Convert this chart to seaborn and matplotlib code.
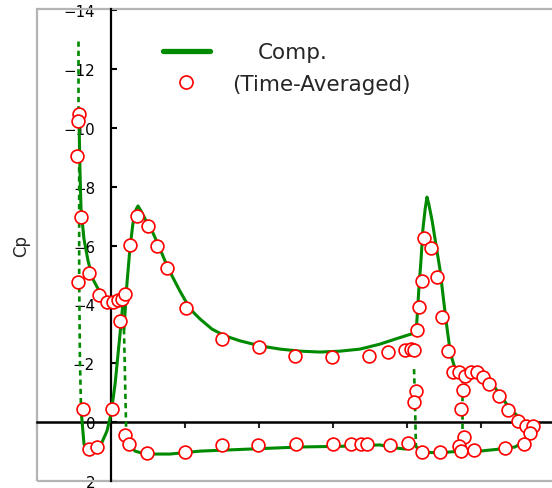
import numpy as np
import pandas as pd
import matplotlib
matplotlib.use("Agg")
import matplotlib.pyplot as plt
from matplotlib.lines import Line2D
from matplotlib.patches import Rectangle
import seaborn as sns

# ------------------------
# DATA  (x/c, Cp)
# ------------------------

# computation: slat
slat_top_x = [-0.089, -0.089]
slat_top_cp = [-12.96, -10.48]
slat_upper_x = [-0.089, -0.086, -0.084, -0.081, -0.073, -0.062, -0.049, -0.032, -0.014, 0.011, 0.030]
slat_upper_cp = [-10.48, -9.97, -8.61, -7.24, -6.22, -5.48, -4.86, -4.46, -4.18, -4.08, -4.12]
slat_le_x = [-0.086, -0.086, -0.084, -0.081]
slat_le_cp = [-9.3, -4.86, -2.14, -0.44]
slat_lower_x = [-0.081, -0.073, -0.057, -0.030, -0.011, 0.000, 0.011, 0.019, 0.027, 0.032]
slat_lower_cp = [-0.44, 0.75, 1.12, 0.85, 0.31, -0.27, -1.29, -2.31, -3.33, -4.01]

# computation: main element
main_upper_x = [0.035, 0.043, 0.051, 0.059, 0.068, 0.073, 0.081, 0.095, 0.111, 0.127, 0.146,
                0.165, 0.186, 0.214, 0.241, 0.273, 0.308, 0.349, 0.403, 0.457, 0.511, 0.565,
                0.619, 0.673, 0.727, 0.768, 0.803, 0.822]
main_upper_cp = [-3.16, -4.69, -5.88, -6.73, -7.24, -7.35, -7.18, -6.84, -6.50, -6.05, -5.48,
                 -4.97, -4.46, -3.84, -3.50, -3.16, -2.93, -2.76, -2.59, -2.48, -2.41, -2.38,
                 -2.41, -2.48, -2.65, -2.82, -2.96, -3.03]
main_le_x = [0.035, 0.038, 0.041]
main_le_cp = [-3.16, -1.46, 0.31]
main_lower_x = [0.041, 0.049, 0.065, 0.092, 0.159, 0.241, 0.376, 0.511, 0.646, 0.727, 0.768, 0.795, 0.811]
main_lower_cp = [0.31, 0.75, 0.99, 1.09, 1.09, 0.99, 0.92, 0.85, 0.82, 0.78, 0.88, 0.92, 0.85]

# computation: flap
flap_upper_x = [0.824, 0.827, 0.832, 0.838, 0.843, 0.849, 0.854, 0.859, 0.868, 0.878, 0.889,
                0.897, 0.905, 0.914, 0.922, 0.932, 0.943]
flap_upper_cp = [-2.96, -3.50, -4.52, -5.54, -6.56, -7.24, -7.65, -7.41, -6.84, -6.05, -5.20,
                 -4.35, -3.50, -2.65, -2.14, -1.73, -1.63]
flap_le_x = [0.819, 0.822, 0.824]
flap_le_cp = [-1.80, -0.44, 0.82]
flap_lower_x = [0.824, 0.835, 0.889, 0.943]
flap_lower_cp = [0.82, 1.02, 1.05, 0.99]

# computation: aft flap
aft_upper_x = [0.943, 0.970, 0.997, 1.024, 1.051, 1.078, 1.105, 1.132, 1.151]
aft_upper_cp = [-1.63, -1.80, -1.77, -1.39, -0.95, -0.44, -0.14, 0.10, 0.24]
aft_le_x = [0.949, 0.949]
aft_le_cp = [-1.53, 0.92]
aft_lower_x = [0.949, 0.997, 1.051, 1.092, 1.119, 1.141, 1.151]
aft_lower_cp = [0.99, 0.99, 0.92, 0.85, 0.65, 0.37, 0.24]

# experiment (time-averaged)
exp_x = [-0.086, -0.089, -0.092, -0.081, -0.059, -0.089, -0.032, -0.011, 0.005, 0.019, 0.030,
         0.038, 0.024, -0.076, 0.003, -0.059, -0.038, 0.038, 0.049,
         0.051, 0.070, 0.100, 0.124, 0.151, 0.203, 0.300, 0.400, 0.497, 0.597, 0.697, 0.749,
         0.795, 0.811, 0.819,
         0.097, 0.200, 0.300, 0.397, 0.500, 0.600, 0.649, 0.676, 0.692, 0.754, 0.803,
         0.824, 0.819,
         0.827, 0.832, 0.841, 0.846, 0.865, 0.881, 0.895, 0.911, 0.841, 0.889,
         0.924, 0.941, 0.957, 0.973, 0.989, 1.005, 1.022, 1.049, 1.073, 1.100, 1.122, 1.141,
         1.132, 1.116,
         0.951, 0.946, 0.954, 0.941, 0.946, 0.981, 1.065]
exp_cp = [-10.48, -10.24, -9.05, -6.97, -5.07, -4.76, -4.32, -4.08, -4.08, -4.15, -4.18,
          -4.35, -3.44, -0.44, -0.44, 0.92, 0.85, 0.44, 0.75,
          -6.02, -7.01, -6.67, -5.99, -5.24, -3.88, -2.82, -2.55, -2.24, -2.21, -2.24, -2.38,
          -2.45, -2.48, -2.45,
          1.05, 1.02, 0.78, 0.78, 0.75, 0.75, 0.75, 0.75, 0.75, 0.78, 0.71,
          -1.05, -0.68,
          -3.13, -3.91, -4.80, -6.26, -5.92, -4.93, -3.57, -2.41, 1.02, 1.02,
          -1.70, -1.70, -1.56, -1.70, -1.70, -1.53, -1.29, -0.88, -0.41, -0.03, 0.14, 0.14,
          0.37, 0.75,
          -1.09, -0.44, 0.51, 0.82, 0.99, 0.95, 0.88]

y_ticks = [-14, -12, -10, -8, -6, -4, -2, 0, 2]
x_ticks = [-0.2, 0.2, 0.4, 0.6, 0.8, 1.0, 1.2]

# ------------------------
# PLOT
# ------------------------
sns.set_style("white")
plt.rcParams["font.family"] = ["DejaVu Sans"]

green = "#008a00"
red = "#ff0000"

fig = plt.figure(figsize=(5.52, 4.89), dpi=100)
ax = fig.add_axes([37 / 552, 1 - 482 / 489, 563 / 552, 472 / 489])

solid_segments = [(slat_upper_x, slat_upper_cp), (slat_lower_x, slat_lower_cp),
                  (main_upper_x, main_upper_cp), (main_lower_x, main_lower_cp),
                  (flap_upper_x, flap_upper_cp), (flap_lower_x, flap_lower_cp),
                  (aft_upper_x, aft_upper_cp), (aft_lower_x, aft_lower_cp)]
dashed_segments = [(slat_top_x, slat_top_cp), (slat_le_x, slat_le_cp), (main_le_x, main_le_cp),
                   (flap_le_x, flap_le_cp), (aft_le_x, aft_le_cp)]

for sx, sy in solid_segments:
    sns.lineplot(x=sx, y=sy, sort=False, estimator=None, color=green, lw=2.2, ax=ax, zorder=3)
for sx, sy in dashed_segments:
    sns.lineplot(x=sx, y=sy, sort=False, estimator=None, color=green, lw=1.9, ax=ax, zorder=3,
                 linestyle=(0, (2.0, 1.5)))

sns.scatterplot(x=exp_x, y=exp_cp, marker="o", s=85, facecolor="white", edgecolor=red,
                linewidth=1.2, ax=ax, zorder=4)

ax.set_xlim(-0.2, 1.3216)
ax.set_ylim(2.007, -14.05)

# axes through the origin
ax.spines["top"].set_visible(False)
ax.spines["right"].set_visible(False)
ax.spines["left"].set_position(("data", 0))
ax.spines["bottom"].set_position(("data", 0))
ax.spines["left"].set_color("black")
ax.spines["bottom"].set_color("black")
ax.spines["left"].set_linewidth(1.6)
ax.spines["bottom"].set_linewidth(1.8)

ax.set_yticks(y_ticks)
ax.set_xticks(x_ticks)
ax.set_xticklabels([])
ax.tick_params(axis="y", direction="in", length=4.5, width=1.5, pad=11.5,
               labelsize=10.8, colors="black", left=True)
ax.tick_params(axis="x", direction="out", length=4.5, width=1.5, bottom=True)

ax.add_patch(Rectangle((0, 0), 1, 1, transform=ax.transAxes, fill=False,
                       edgecolor="#b4b4b4", lw=1.6, clip_on=False, zorder=1))

ax.set_xlabel("")
ax.set_ylabel("Cp", fontsize=12)
ax.yaxis.set_label_coords(-0.012, 0.5)

# legend block
fig.add_artist(Line2D([163 / 552, 210 / 552], [1 - 52 / 489] * 2, transform=fig.transFigure,
                      color=green, lw=3.8))
fig.add_artist(Line2D([186 / 552], [1 - 83 / 489], transform=fig.transFigure, marker="o",
                      markersize=9.4, markerfacecolor="white", markeredgecolor=red,
                      markeredgewidth=1.2, linestyle="none"))
fig.text(258 / 552, 1 - 59 / 489, "Comp.", fontsize=15.5, va="baseline", ha="left")
fig.text(232 / 552, 1 - 91 / 489, "(Time-Averaged)", fontsize=15.5, va="baseline", ha="left")

fig.savefig("out.png", dpi=100)
